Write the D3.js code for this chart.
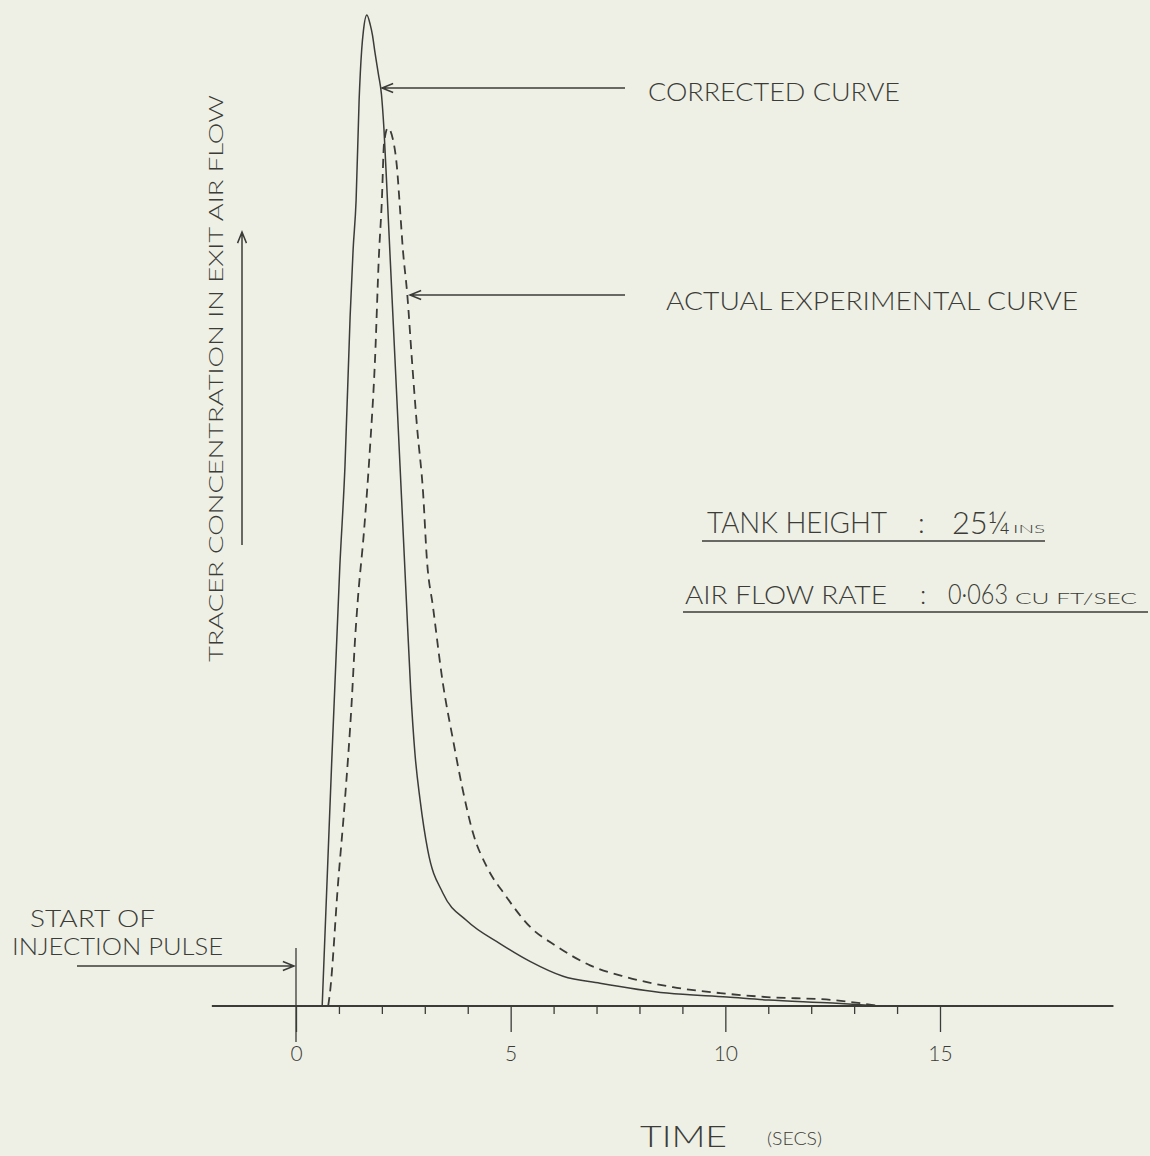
<!DOCTYPE html>
<html>
<head>
<meta charset="utf-8">
<script src="https://cdn.jsdelivr.net/npm/d3@7"></script>
<style>
  body { margin: 0; background: #eef0e5; }
  svg { display: block; }
  .ink { fill: none; stroke: #3b3c37; }
  text { font-family: Lato, "Open Sans", sans-serif; font-weight: 300; fill: #3b3c37; }
</style>
</head>
<body>
<svg id="chart" width="1150" height="1156"></svg>
<script>
// time (secs) and tracer concentration (arbitrary units, peak of corrected = 100)
var correctedT = [0.61, 0.77, 1.02, 1.14, 1.26, 1.33, 1.40, 1.47, 1.53, 1.57, 1.65, 1.73, 1.78, 1.84, 1.92, 1.99, 2.05, 2.13, 2.24, 2.35, 2.46, 2.57, 2.67, 2.77, 2.89, 3.07, 3.42, 3.98, 4.75, 5.45, 6.22, 7.08, 8.64, 10.04, 11.0, 12.5, 13.6];
var correctedC = [0, 17.8, 44.3, 54.4, 69.5, 76.3, 81.3, 91.4, 96.5, 98.4, 100, 99.0, 98.0, 96.2, 94.0, 92.0, 88.4, 81.3, 71.2, 61.2, 51.1, 41.0, 32.0, 25.5, 20.8, 15.7, 11.4, 8.6, 6.3, 4.5, 3.0, 2.3, 1.3, 0.9, 0.6, 0.3, 0];

var actualT = [0.75, 0.79, 0.98, 1.14, 1.30, 1.37, 1.44, 1.58, 1.72, 1.84, 1.93, 2.00, 2.05, 2.14, 2.26, 2.35, 2.42, 2.49, 2.59, 2.70, 2.82, 2.96, 3.05, 3.19, 3.42, 3.66, 3.87, 4.12, 4.45, 4.87, 5.45, 6.08, 6.85, 7.71, 8.78, 9.88, 10.97, 12.51, 13.6];
var actualC = [0, 1.3, 12.4, 20.8, 30.9, 36.6, 41.0, 47.7, 56.1, 65.2, 75.6, 81.3, 87.0, 88.6, 87.4, 84.7, 80.6, 76.3, 71.9, 65.2, 58.4, 51.8, 45.0, 40.3, 32.6, 26.8, 22.1, 17.5, 14.0, 11.2, 8.0, 6.0, 4.1, 2.9, 1.9, 1.3, 0.9, 0.6, 0];

var majorTicks = [0, 5, 10, 15];
var minorTicks = [1, 2, 3, 4, 6, 7, 8, 9, 11, 12, 13, 14];
var axisExtent = [-1.96, 19.04];

var svg = d3.select("#chart");

var x = d3.scaleLinear().domain([0, 15]).range([296, 940]);
var y = d3.scaleLinear().domain([0, 100]).range([1006, 15]);

// axis line
svg.append("line")
    .attr("class", "ink")
    .attr("x1", x(axisExtent[0])).attr("x2", x(axisExtent[1]))
    .attr("y1", y(0)).attr("y2", y(0))
    .attr("stroke-width", 2);

var minorAxis = svg.append("g")
    .attr("transform", "translate(0," + y(0) + ")")
    .call(d3.axisBottom(x).tickValues(minorTicks).tickSize(8).tickFormat(""));

var majorAxis = svg.append("g")
    .attr("transform", "translate(0," + y(0) + ")")
    .call(d3.axisBottom(x).tickValues(majorTicks).tickSize(26).tickPadding(14).tickFormat(d3.format("d")));

svg.selectAll(".domain").remove();
svg.selectAll(".tick line").attr("stroke", "#3b3c37").attr("stroke-width", 1.3);
majorAxis.selectAll("text")
    .attr("fill", "#3b3c37")
    .style("font-family", "Lato, sans-serif")
    .style("font-weight", 300)
    .style("font-size", "21px");

// injection pulse marker at t = 0
svg.append("line")
    .attr("class", "ink")
    .attr("x1", x(0)).attr("x2", x(0))
    .attr("y1", 948).attr("y2", 1042)
    .attr("stroke-width", 1.3);

var line = d3.line()
    .x(function(d) { return x(d[0]); })
    .y(function(d) { return y(d[1]); })
    .curve(d3.curveMonotoneX);

svg.append("path")
    .datum(d3.zip(correctedT, correctedC))
    .attr("class", "ink")
    .attr("stroke-width", 1.5)
    .attr("d", line);

svg.append("path")
    .datum(d3.zip(actualT, actualC))
    .attr("class", "ink")
    .attr("stroke-width", 1.8)
    .attr("stroke-dasharray", "9,6")
    .attr("d", line);

// arrows
function arrow(x1, y1, x2, y2) {
    var a = Math.atan2(y2 - y1, x2 - x1), L = 12, s = 0.38;
    svg.append("path")
        .attr("class", "ink")
        .attr("stroke-width", 1.5)
        .attr("d", "M" + x1 + "," + y1 + "L" + x2 + "," + y2 +
            "M" + (x2 - L * Math.cos(a - s)) + "," + (y2 - L * Math.sin(a - s)) +
            "L" + x2 + "," + y2 +
            "L" + (x2 - L * Math.cos(a + s)) + "," + (y2 - L * Math.sin(a + s)));
}
arrow(625, 88, 382, 88);
arrow(625, 295, 410, 295);
arrow(77, 966, 294, 966);
arrow(242, 545, 242, 232);

function label(txt, px, py, size, len, anchor) {
    var t = svg.append("text")
        .attr("x", px).attr("y", py)
        .style("font-size", size + "px")
        .text(txt);
    if (len) t.attr("textLength", len).attr("lengthAdjust", "spacingAndGlyphs");
    if (anchor) t.attr("text-anchor", anchor);
    return t;
}

label("CORRECTED  CURVE", 648, 101, 26, 252);
label("ACTUAL  EXPERIMENTAL  CURVE", 666, 310, 26, 412);

label("TANK  HEIGHT", 707, 533, 29, 180);
label(":", 918, 533, 28);
label("25¼", 952, 534, 32, 58);
label("INS", 1013, 533, 12, 32);
svg.append("line").attr("class", "ink").attr("stroke-width", 1.6)
    .attr("x1", 702).attr("x2", 1045).attr("y1", 541).attr("y2", 541);

label("AIR  FLOW  RATE", 685, 604, 26, 202);
label(":", 920, 604, 26);
label("0·063", 948, 604, 27, 60);
label("CU FT/SEC", 1015, 604, 16, 122);
svg.append("line").attr("class", "ink").attr("stroke-width", 1.6)
    .attr("x1", 683).attr("x2", 1148).attr("y1", 612).attr("y2", 612);

label("START  OF", 30, 927, 23, 125);
label("INJECTION  PULSE", 12, 955, 23, 211);

label("TIME", 640, 1147, 30, 87);
label("(SECS)", 767, 1145, 17, 55);

svg.append("text")
    .attr("transform", "translate(223,662) rotate(-90)")
    .attr("textLength", 567).attr("lengthAdjust", "spacingAndGlyphs")
    .style("font-size", "20px")
    .text("TRACER  CONCENTRATION  IN  EXIT  AIR  FLOW");
</script>
</body>
</html>
